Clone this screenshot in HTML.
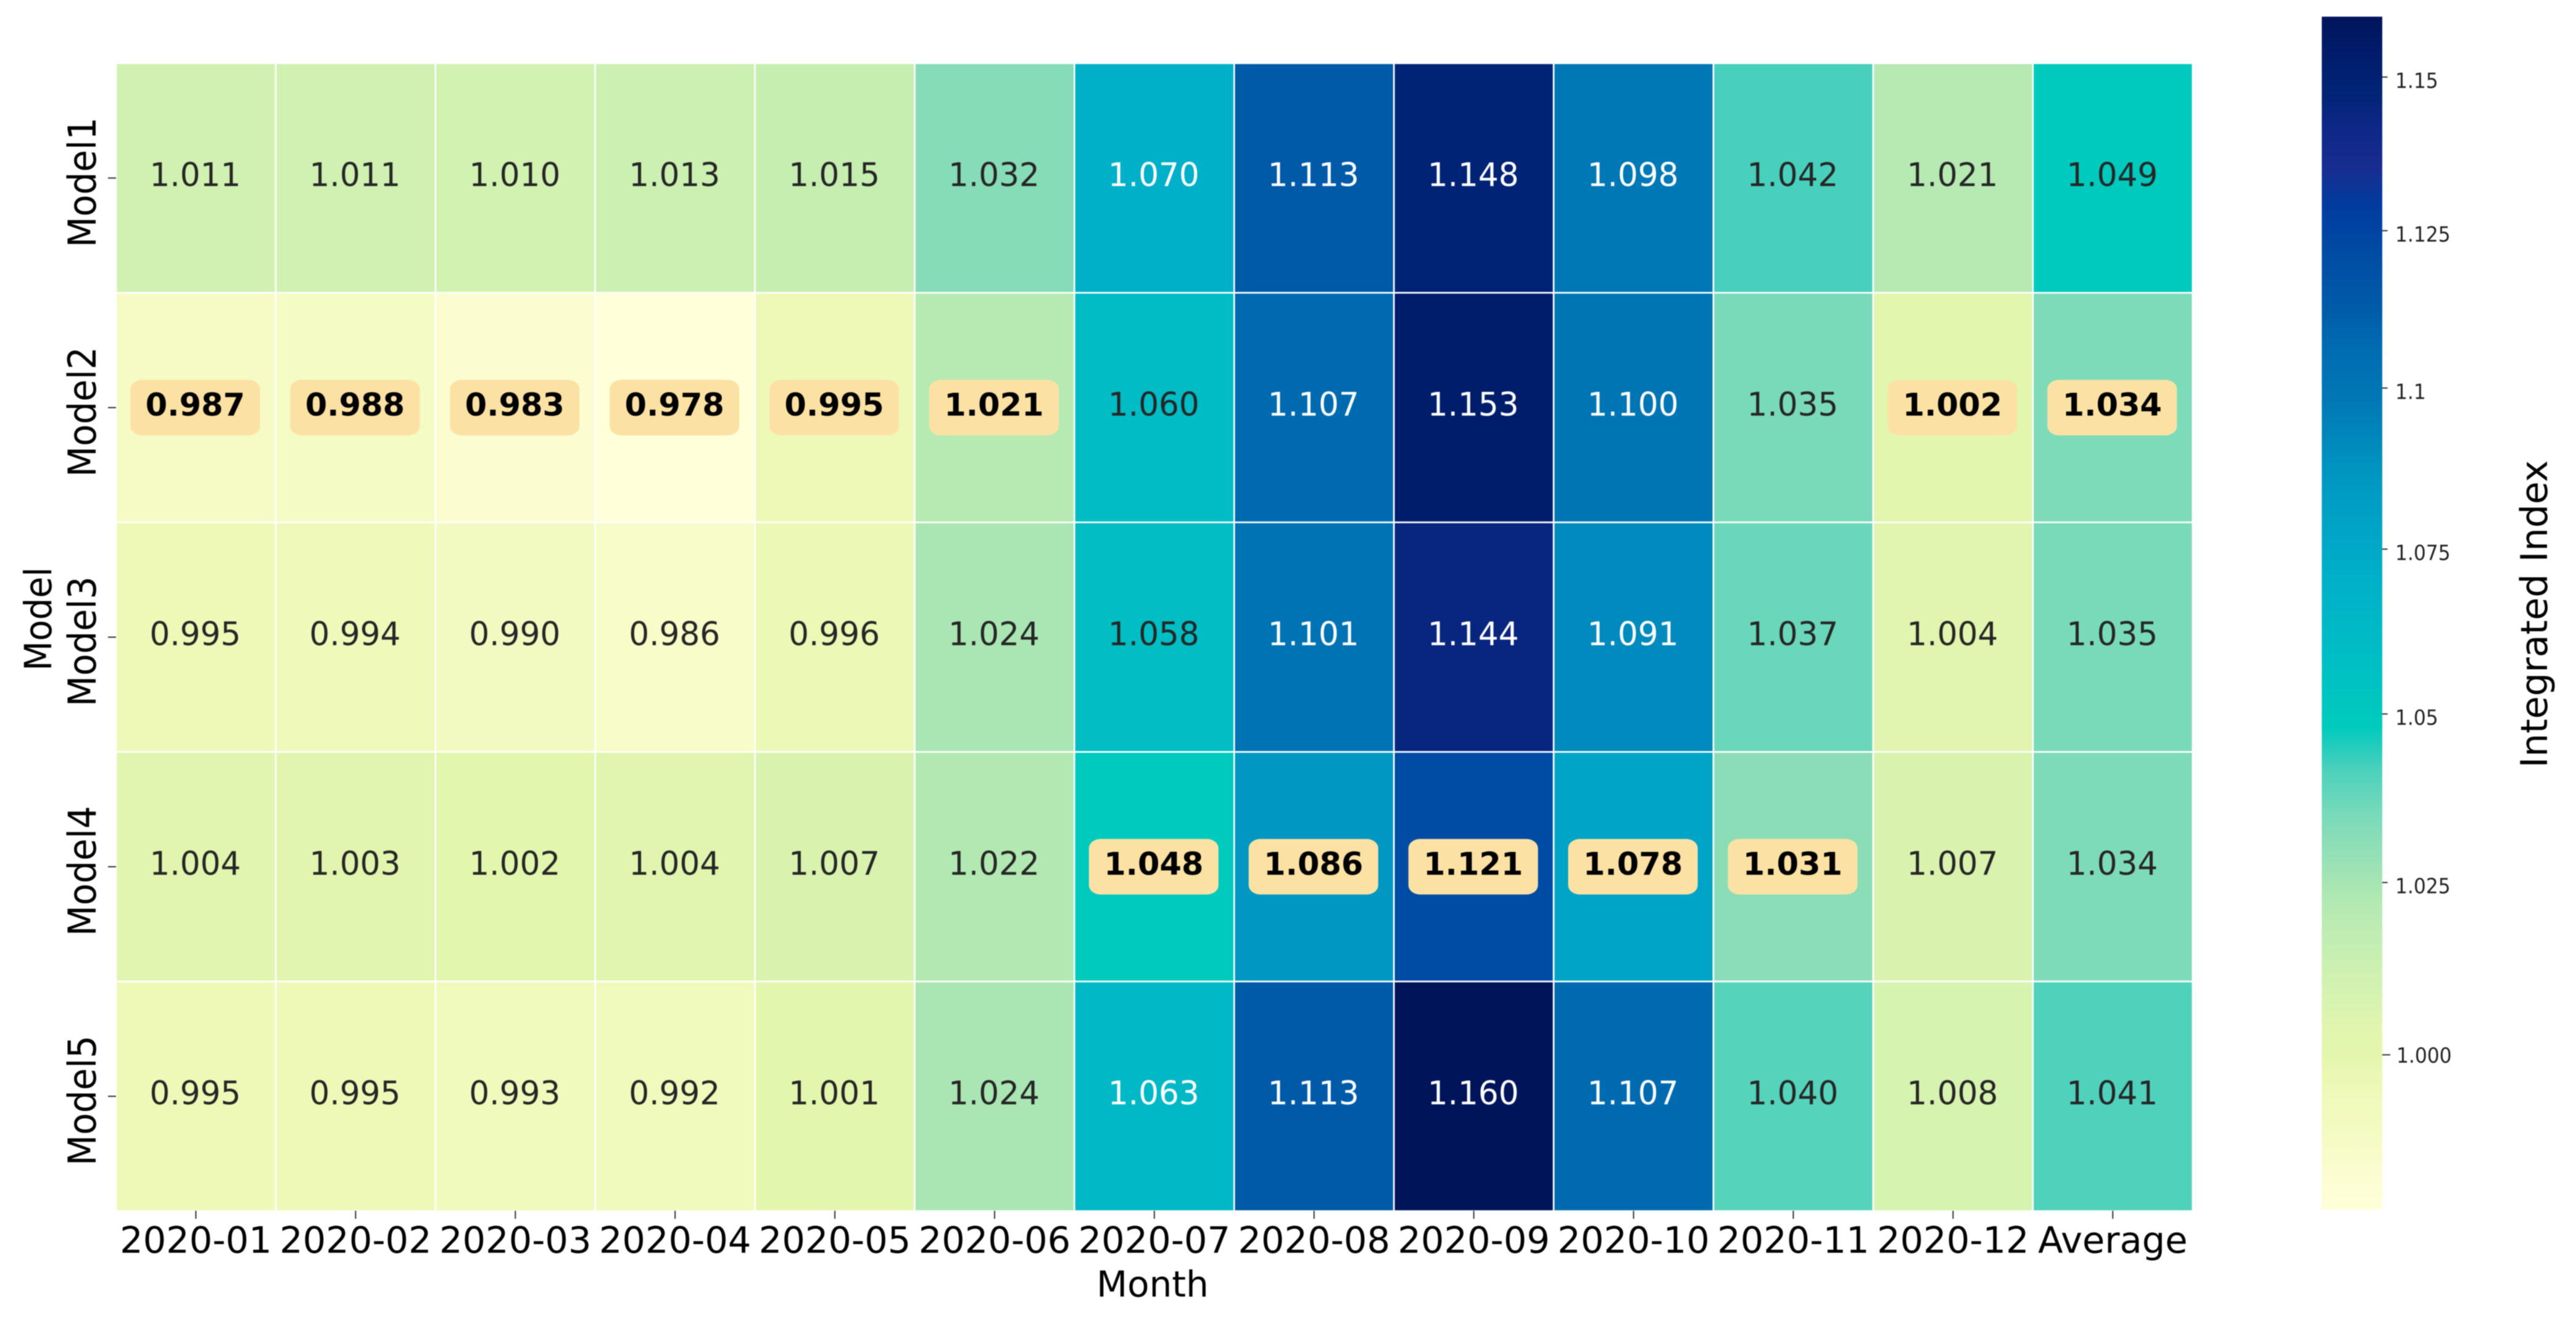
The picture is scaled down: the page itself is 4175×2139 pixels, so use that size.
<!DOCTYPE html>
<html lang="en">
<head>
<meta charset="utf-8">
<title>Integrated Index heatmap by model and month</title>
<style>
  html, body { margin: 0; padding: 0; background: #ffffff; }
  svg { display: block; font-family: "DejaVu Sans", "Liberation Sans", sans-serif; filter: blur(0.7px); }
</style>
</head>
<body>
<svg id="chart" xmlns="http://www.w3.org/2000/svg" width="4175" height="2139" viewBox="0 0 4175 2139">
  <defs>
    <linearGradient id="cbar-gradient" x1="0" y1="0" x2="0" y2="1"></linearGradient>
  </defs>
  <rect x="0" y="0" width="4175" height="2139" fill="#ffffff"/>
  <g id="cells"></g>
  <g id="annotations"></g>
  <g id="x-axis"></g>
  <g id="y-axis"></g>
  <g id="colorbar">
    <rect id="cbar-rect" x="3763" y="27" width="98" height="1933" fill="url(#cbar-gradient)"/>
  </g>
  <text x="1868" y="2101" text-anchor="middle" font-size="58" fill="#000">Month</text>
  <text transform="translate(83,1003) rotate(-90) scale(1,1.08)" text-anchor="middle" font-size="56" fill="#000">Model</text>
  <text transform="translate(4128,995) rotate(-90)" text-anchor="middle" font-size="60" fill="#000">Integrated Index</text>
</svg>
<script>
const months = ['2020-01','2020-02','2020-03','2020-04','2020-05','2020-06','2020-07','2020-08','2020-09','2020-10','2020-11','2020-12','Average'];
const models = ['Model1','Model2','Model3','Model4','Model5'];
const model1Values = [1.011,1.011,1.010,1.013,1.015,1.032,1.070,1.113,1.148,1.098,1.042,1.021,1.049];
const model2Values = [0.987,0.988,0.983,0.978,0.995,1.021,1.060,1.107,1.153,1.100,1.035,1.002,1.034];
const model3Values = [0.995,0.994,0.990,0.986,0.996,1.024,1.058,1.101,1.144,1.091,1.037,1.004,1.035];
const model4Values = [1.004,1.003,1.002,1.004,1.007,1.022,1.048,1.086,1.121,1.078,1.031,1.007,1.034];
const model5Values = [0.995,0.995,0.993,0.992,1.001,1.024,1.063,1.113,1.160,1.107,1.040,1.008,1.041];
const seriesValues = [model1Values, model2Values, model3Values, model4Values, model5Values];
const colorbarTickValues = [1.15,1.125,1.1,1.075,1.05,1.025,1.0];
const colorbarTickLabels = ['1.15','1.125','1.1','1.075','1.05','1.025','1.000'];
const colormapValues = [0.978,0.983,0.987,0.995,1.0,1.004,1.011,1.021,1.025,1.032,1.035,1.042,1.048,1.06,1.07,1.078,1.086,1.098,1.107,1.113,1.121,1.129,1.135,1.142,1.148,1.153,1.16];
const colormapColors = ['#ffffd9','#fbfdd0','#f6fbc6','#eef9b8','#e4f6ad','#e0f5ae','#d0f1b1','#b6eab2','#a6e5b3','#87dcb8','#79dab9','#48d0bc','#00cabd','#00bcc5','#00b0c8','#00a4c6','#0097c2','#0078b5','#006ab1','#005aa8','#004ca4','#003c9e','#182d91','#0c2785','#002375','#001d6c','#00145a'];

const SVG_NS = 'http://www.w3.org/2000/svg';
const plotLeft = 188, plotTop = 102.5, colWidth = 258.9, rowHeight = 372;
const normMin = 0.978, normMax = 1.16, normBow = 0.083;
const barTop = 27, barBottom = 1960, barRight = 3861;
const whiteTextAbove = 1.0615;

function xScale(i) { return plotLeft + colWidth * i; }
function yScale(j) { return plotTop + rowHeight * j; }
function colorbarY(v) {
  const t = Math.max(0, Math.min(1, (v - normMin) / (normMax - normMin)));
  return barBottom - (barBottom - barTop) * (t + normBow * t * (1 - t));
}
function hexToRgb(h) {
  return [parseInt(h.slice(1,3),16), parseInt(h.slice(3,5),16), parseInt(h.slice(5,7),16)];
}
function colorFor(v) {
  if (v <= colormapValues[0]) return colormapColors[0];
  for (let k = 1; k < colormapValues.length; k++) {
    if (v <= colormapValues[k]) {
      const f = (v - colormapValues[k-1]) / (colormapValues[k] - colormapValues[k-1]);
      const a = hexToRgb(colormapColors[k-1]), b = hexToRgb(colormapColors[k]);
      return 'rgb(' + a.map((c, n) => Math.round(c + (b[n] - c) * f)).join(',') + ')';
    }
  }
  return colormapColors[colormapColors.length - 1];
}
function make(tag, attrs, parent, text) {
  const el = document.createElementNS(SVG_NS, tag);
  for (const key in attrs) el.setAttribute(key, attrs[key]);
  if (text !== undefined) el.textContent = text;
  parent.appendChild(el);
  return el;
}

const cellsLayer = document.getElementById('cells');
const annotationLayer = document.getElementById('annotations');
const xAxisLayer = document.getElementById('x-axis');
const yAxisLayer = document.getElementById('y-axis');
const colorbarLayer = document.getElementById('colorbar');

// Each column's lowest value (first model on a tie) gets the badge.
const bestRow = months.map((_, c) => {
  let best = 0;
  seriesValues.forEach((row, r) => { if (row[c] < seriesValues[best][c]) best = r; });
  return best;
});

seriesValues.forEach((row, r) => {
  row.forEach((value, c) => {
    const cell = make('rect', {
      x: xScale(c), y: yScale(r), width: colWidth, height: rowHeight,
      fill: colorFor(value), stroke: '#ffffff', 'stroke-width': 2.6
    }, cellsLayer);
    
    

    const cx = xScale(c + 0.5) - 1;
    const cy = yScale(r + 0.5);
    const isBest = bestRow[c] === r;
    if (isBest) {
      const badge = make('rect', {
        x: cx - 105, y: cy - 45, width: 210, height: 90, rx: 19, ry: 15, fill: '#fbe2a4'
      }, annotationLayer);
      
      
    }
    const label = make('text', {
      transform: 'translate(' + cx + ',' + (cy + 13) + ') scale(' + (isBest ? 1 : 0.975) + ',1)',
      'text-anchor': 'middle',
      'font-size': isBest ? 51 : 53,
      'font-weight': isBest ? 'bold' : 'normal',
      fill: isBest ? '#000000' : (value > whiteTextAbove ? '#ffffff' : '#262626')
    }, annotationLayer, value.toFixed(3));
    
    
  });
});

months.forEach((month, c) => {
  const x = xScale(c + 0.5);
  const tick = make('line', { x1: x, x2: x, y1: 1962, y2: 1975, stroke: '#333333', 'stroke-width': 2 }, xAxisLayer);
  
  
  const label = make('text', { x: x, y: 2030, 'text-anchor': 'middle', 'font-size': 59, fill: '#000000' }, xAxisLayer, month);
  
  
});

models.forEach((model, r) => {
  const y = yScale(r + 0.5);
  const tick = make('line', { x1: 175, x2: plotLeft, y1: y, y2: y, stroke: '#333333', 'stroke-width': 2 }, yAxisLayer);
  
  
  const label = make('text', {
    transform: 'translate(155,' + (y + 7) + ') rotate(-90) scale(1,1.08)',
    'text-anchor': 'middle', 'font-size': 58, fill: '#000000'
  }, yAxisLayer, model);
  
  
});

const gradient = document.getElementById('cbar-gradient');
colormapValues.forEach((value, k) => {
  make('stop', {
    offset: (colorbarY(value) - barTop) / (barBottom - barTop),
    'stop-color': colormapColors[k]
  }, gradient);
});
Array.from(gradient.children).reverse().forEach(stop => gradient.appendChild(stop));

colorbarTickValues.forEach((value, k) => {
  const y = colorbarY(value);
  const isBase = colorbarTickLabels[k] === '1.000';
  const tick = make('line', {
    x1: barRight, x2: barRight + (isBase ? 13 : 8.6), y1: y, y2: y, stroke: '#333333', 'stroke-width': 2
  }, colorbarLayer);
  
  
  const labelY = y + (isBase ? 0 : 5) + 12.5;
  const label = make('text', {
    transform: 'translate(' + (isBase ? 3884 : 3882) + ',' + labelY + ') scale(0.92,1)',
    'font-size': 34, fill: '#222222'
  }, colorbarLayer, colorbarTickLabels[k]);
  
  
});
</script>
</body>
</html>
